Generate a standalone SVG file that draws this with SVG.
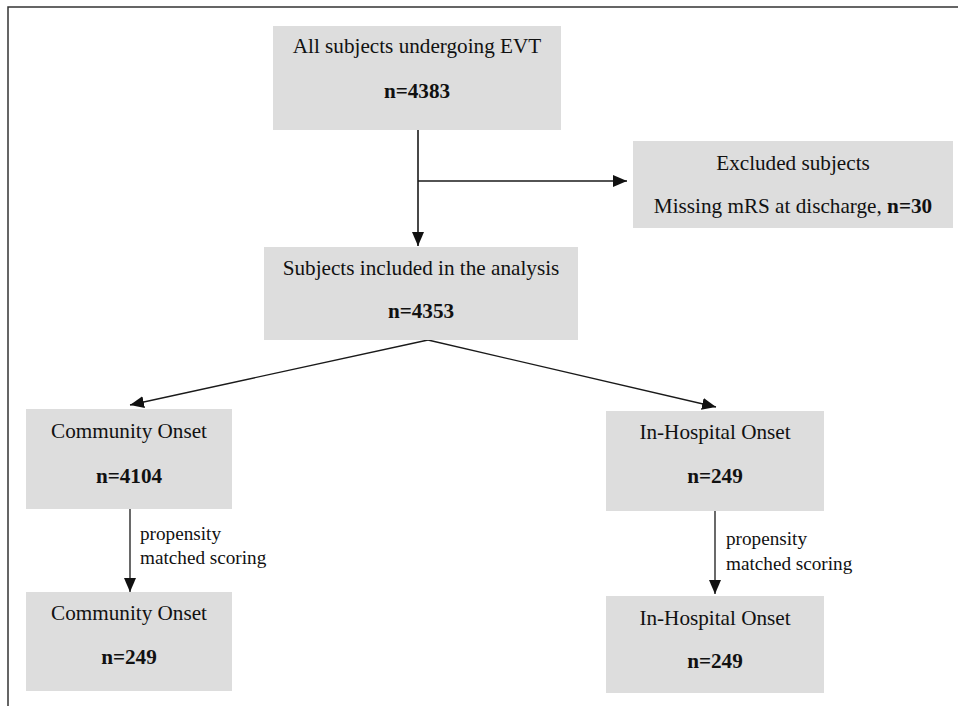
<svg xmlns="http://www.w3.org/2000/svg" width="958" height="706" viewBox="0 0 958 706">
<defs>
<style>
.box{fill:#dddddd;}
.t{font-family:"Liberation Serif","Times New Roman",serif;font-size:21.2px;fill:#111;text-anchor:middle;}
.b{font-weight:bold;}
.lbl{font-family:"Liberation Serif","Times New Roman",serif;font-size:19.2px;fill:#111;}
.ln{stroke:#1a1a1a;stroke-width:1.6;fill:none;}
.dg{stroke:#1a1a1a;stroke-width:1.3;fill:none;}
</style>
<marker id="ah" markerUnits="userSpaceOnUse" markerWidth="14" markerHeight="12" viewBox="0 0 14 12" refX="14" refY="6" orient="auto">
<path d="M0,0 L14,6 L0,12 Z" fill="#111"/>
</marker>
</defs>
<rect x="0" y="0" width="958" height="706" fill="#ffffff"/>
<g id="frame">
<path d="M8,706 L8,7 L958,7" stroke="#333" stroke-width="1.5" fill="none"/>
</g>
<g id="connectors">
<line class="ln" x1="418" y1="130" x2="418" y2="246" marker-end="url(#ah)"/>
<line class="ln" x1="418" y1="181" x2="627" y2="181" marker-end="url(#ah)"/>
<line class="dg" x1="428" y1="340" x2="130" y2="405" marker-end="url(#ah)"/>
<line class="dg" x1="428" y1="340" x2="716" y2="407" marker-end="url(#ah)"/>
<line class="dg" x1="130" y1="509" x2="130" y2="592" marker-end="url(#ah)"/>
<line class="dg" x1="715" y1="511" x2="715" y2="594" marker-end="url(#ah)"/>
<text class="lbl" x="140" y="540">propensity</text>
<text class="lbl" x="140" y="564">matched scoring</text>
<text class="lbl" x="726" y="545">propensity</text>
<text class="lbl" x="726" y="570">matched scoring</text>
</g>
<g id="all-subjects">
<rect class="box" x="273" y="26" width="288" height="104"/>
<text class="t" x="417" y="53">All subjects undergoing EVT</text>
<text class="t b" x="417" y="98">n=4383</text>
</g>
<g id="excluded">
<rect class="box" x="633" y="141" width="320" height="87"/>
<text class="t" x="793" y="170">Excluded subjects</text>
<text class="t" x="793" y="213">Missing mRS at discharge, <tspan class="b">n=30</tspan></text>
</g>
<g id="included">
<rect class="box" x="264" y="247" width="314" height="93"/>
<text class="t" x="421" y="275">Subjects included in the analysis</text>
<text class="t b" x="421" y="318">n=4353</text>
</g>
<g id="community">
<rect class="box" x="26" y="409" width="206" height="100"/>
<text class="t" x="129" y="438">Community Onset</text>
<text class="t b" x="129" y="483">n=4104</text>
</g>
<g id="community-matched">
<rect class="box" x="26" y="592" width="206" height="99"/>
<text class="t" x="129" y="620">Community Onset</text>
<text class="t b" x="129" y="664">n=249</text>
</g>
<g id="in-hospital">
<rect class="box" x="606" y="411" width="218" height="100"/>
<text class="t" x="715" y="439">In-Hospital Onset</text>
<text class="t b" x="715" y="483">n=249</text>
</g>
<g id="in-hospital-matched">
<rect class="box" x="606" y="596" width="218" height="97"/>
<text class="t" x="715" y="625">In-Hospital Onset</text>
<text class="t b" x="715" y="668">n=249</text>
</g>
</svg>
